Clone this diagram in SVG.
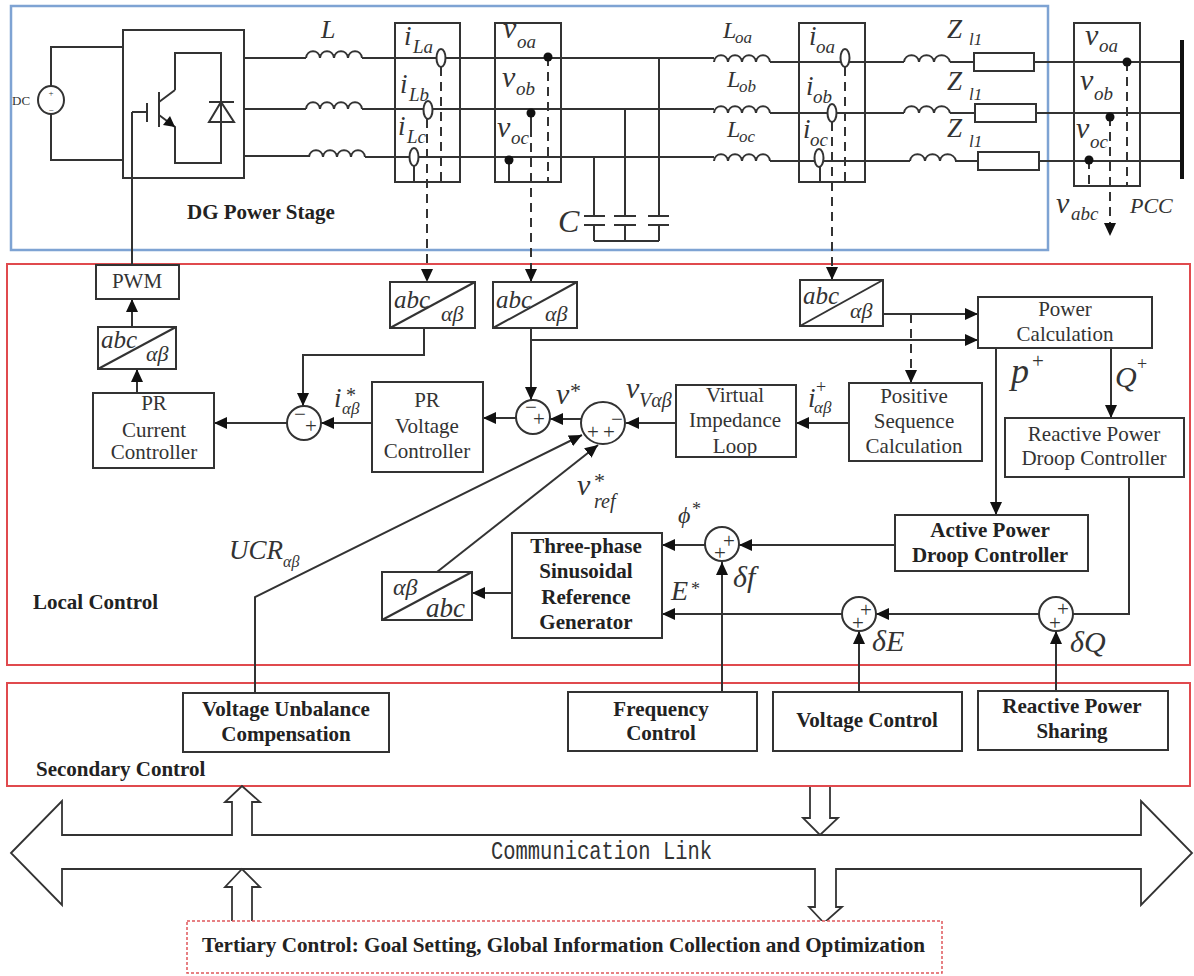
<svg xmlns="http://www.w3.org/2000/svg" width="1194" height="976" viewBox="0 0 1194 976">
<style>
text{font-family:"Liberation Serif","Times New Roman",serif;fill:#333}
.b{fill:#fff;stroke:#333;stroke-width:2}
.o{fill:none;stroke:#333;stroke-width:2}
.l{font-size:21px;text-anchor:middle}
.h{font-size:21px;font-weight:bold;text-anchor:middle;fill:#222}
.t{font-size:21px;font-weight:bold;fill:#222}
.m{font-style:italic;font-size:27px}
.v{font-style:italic;font-size:30px}
.s{font-style:italic;font-size:19px}
.a{font-style:italic;font-size:26px}
.g{font-style:italic;font-size:22px}
.p{font-size:21px;text-anchor:middle}
.n{font-style:normal}
.w{fill:none;stroke:#333;stroke-width:2}
.d{fill:none;stroke:#333;stroke-width:2;stroke-dasharray:9 6}
.e{fill:none;stroke:#333;stroke-width:2;marker-end:url(#ah)}
.de{fill:none;stroke:#333;stroke-width:2;stroke-dasharray:9 6;marker-end:url(#ah)}
.r{fill:none;stroke:#e04a4e;stroke-width:2}
.f{fill:#111;stroke:none}
.k{fill:#fff;stroke:#333;stroke-width:1.8}
</style>
<defs>
<marker id="ah" markerUnits="userSpaceOnUse" markerWidth="14" markerHeight="12" refX="13" refY="6" orient="auto"><path d="M0 0L13 6L0 12z" fill="#111"/></marker>
<path id="ind" d="M0 0c1-9 13-9 14 0c1-9 13-9 14 0c1-9 13-9 14 0c1-9 13-9 14 0" fill="none" stroke="#333" stroke-width="2"/>
<path id="ind2" d="M0 0c1-9 14-9 15 0c1-9 14-9 15 0c1-9 14-9 16 0" fill="none" stroke="#333" stroke-width="2"/>
</defs>
<rect width="1194" height="976" fill="#fff"/>

<g id="frames">
<rect x="11" y="6" width="1037" height="244" fill="none" stroke="#7ea3d3" stroke-width="2.5"/>
<rect class="r" x="7" y="264" width="1183" height="401"/>
<rect class="r" x="7" y="683" width="1183" height="103"/>
<text class="t" x="187" y="219" id="label-dg">DG Power Stage</text>
<text class="t" x="33" y="609" id="label-local">Local Control</text>
<text class="t" x="36" y="776" id="label-secondary">Secondary Control</text>
</g>

<g id="connectors">
<path class="w" d="M51 86V47H123M51 114V160H123"/>
<path class="w" d="M244 58H306M362 58H714M770 62H904M950 62H974M1034 62H1182"/>
<path class="w" d="M244 109H306M362 109H714M770 113H904M950 113H975M1036 113H1182"/>
<path class="w" d="M244 156H309M365 157H714M770 161H910M955 161H978M1039 161H1182"/>
<use href="#ind" x="306" y="58"/><use href="#ind" x="306" y="109"/><use href="#ind" x="309" y="157"/>
<use href="#ind" x="714" y="62"/><use href="#ind" x="714" y="113"/><use href="#ind" x="714" y="161"/>
<use href="#ind2" x="904" y="62"/><use href="#ind2" x="904" y="113"/><use href="#ind2" x="910" y="161"/>
<path class="w" d="M659 58V216M625 109V216M594 156V216M659 225V241M625 225V241M594 225V241M594 241H659"/>
<path class="w" d="M584 216H605M584 225H605M614 216H636M614 225H636M648 216H669M648 225H669"/>
<path d="M1182 40V179" stroke="#111" stroke-width="4" fill="none"/>
<path class="w" d="M132 112H147M132 112V265"/>
<path class="w" d="M414 166V182M509 160V182M820 167V182"/>
<path class="d" d="M441 67V182M548 57V182M845 67V182M1127 62V186M1089 160V186"/>
<path class="w" d="M531 113V128"/>
<path class="de" d="M427 119V282"/>
<path class="de" d="M531 128V282"/>
<path class="de" d="M832 122V280"/>
<path class="de" d="M1110 117V236"/>
<path class="e" d="M132 327V299"/>
<path class="e" d="M137 393V369"/>
<path class="e" d="M424 328V355H303V406"/>
<path class="e" d="M531 328V400"/>
<path class="e" d="M531 340H978"/>
<path class="e" d="M883 314H978"/>
<path class="de" d="M911 314V383"/>
<path class="e" d="M287 423H214"/>
<path class="e" d="M372 423H321"/>
<path class="e" d="M516 418H483"/>
<path class="e" d="M581 419H550"/>
<path class="e" d="M676 423H626"/>
<path class="e" d="M849 423H796"/>
<path class="e" d="M1111 348V418"/>
<path class="e" d="M996 348V515"/>
<path class="w" d="M1129 477V614H1073"/>
<path class="e" d="M1039 614H876"/>
<path class="e" d="M842 614H662"/>
<path class="e" d="M895 545H739"/>
<path class="e" d="M705 545H662"/>
<path class="e" d="M512 593H472"/>
<path class="e" d="M255 693V597L582 435"/>
<path class="e" d="M437 572L598 445"/>
<path class="e" d="M722 692V562"/>
<path class="e" d="M859 692V631"/>
<path class="e" d="M1056 691V631"/>
</g>

<g id="dc-source">
<ellipse class="b" cx="51" cy="100" rx="13" ry="14"/>
<text x="12" y="105" font-size="13">DC</text>
<text font-size="9" text-anchor="middle"><tspan x="51" y="96">+</tspan><tspan x="51" y="113">−</tspan></text>
</g>
<g id="converter">
<rect class="o" x="123" y="30" width="121" height="148"/>
<path class="w" d="M175 90V53H221V163H175V127L159 115M175 90L159 102M159 92V127M147 103V122"/>
<path class="w" d="M209 102H234M209 122L221 102L234 122z"/>
<path class="f" d="M175 127L163 125L170 116z"/>
</g>

<g id="sensor-il">
<rect class="o" x="395" y="23" width="65" height="159"/>
<g fill="#fff" stroke="#333" stroke-width="2"><ellipse cx="441" cy="58" rx="4.5" ry="9"/><ellipse cx="428" cy="110" rx="4.5" ry="9"/><ellipse cx="414" cy="157" rx="4.5" ry="9"/></g>
<text class="m" x="404" y="45">i<tspan class="s" x="413" y="53">La</tspan></text>
<text class="m" x="400" y="93">i<tspan class="s" x="409" y="101">Lb</tspan></text>
<text class="m" x="398" y="135">i<tspan class="s" x="407" y="143">Lc</tspan></text>
</g>
<g id="sensor-vo">
<rect class="o" x="495" y="23" width="66" height="159"/>
<circle class="f" cx="548" cy="57" r="4.5"/><circle class="f" cx="531" cy="113" r="4.5"/><circle class="f" cx="509" cy="160" r="4.5"/>
<text class="v" x="503" y="38">v<tspan class="s" x="517" y="48">oa</tspan></text>
<text class="v" x="502" y="87">v<tspan class="s" x="516" y="95">ob</tspan></text>
<text class="v" x="497" y="137">v<tspan class="s" x="511" y="144">oc</tspan></text>
</g>
<g id="sensor-io">
<rect class="o" x="799" y="23" width="66" height="159"/>
<g fill="#fff" stroke="#333" stroke-width="2"><ellipse cx="845" cy="58" rx="4.5" ry="9"/><ellipse cx="832" cy="113" rx="4.5" ry="9"/><ellipse cx="819" cy="158" rx="4.5" ry="9"/></g>
<text class="m" x="809" y="45">i<tspan class="s" x="816" y="53">oa</tspan></text>
<text class="m" x="806" y="95">i<tspan class="s" x="813" y="103">ob</tspan></text>
<text class="m" x="803" y="138">i<tspan class="s" x="810" y="146">oc</tspan></text>
</g>
<g id="sensor-pcc">
<rect class="o" x="1074" y="23" width="66" height="163"/>
<circle class="f" cx="1127" cy="62" r="4.5"/><circle class="f" cx="1110" cy="117" r="4.5"/><circle class="f" cx="1089" cy="160" r="4.5"/>
<text class="v" x="1085" y="45">v<tspan class="s" x="1099" y="52">oa</tspan></text>
<text class="v" x="1080" y="90">v<tspan class="s" x="1094" y="100">ob</tspan></text>
<text class="v" x="1076" y="138">v<tspan class="s" x="1090" y="148">oc</tspan></text>
</g>
<g id="impedances">
<rect class="b" x="974" y="53" width="60" height="18"/>
<rect class="b" x="975" y="104" width="61" height="18"/>
<rect class="b" x="978" y="152" width="61" height="18"/>
<text class="m" x="947" y="38">Z<tspan class="s" x="969" y="45" style="font-size:17px">l1</tspan></text>
<text class="m" x="947" y="90">Z<tspan class="s" x="969" y="100" style="font-size:17px">l1</tspan></text>
<text class="m" x="947" y="137">Z<tspan class="s" x="969" y="147" style="font-size:17px">l1</tspan></text>
</g>
<g id="electrical-labels">
<text class="a" x="321" y="38">L</text>
<text class="m" x="723" y="38" style="font-size:24px">L<tspan class="s" x="735" y="43" style="font-size:17px">oa</tspan></text>
<text class="m" x="727" y="87" style="font-size:24px">L<tspan class="s" x="739" y="92" style="font-size:17px">ob</tspan></text>
<text class="m" x="727" y="137" style="font-size:24px">L<tspan class="s" x="739" y="142" style="font-size:17px">oc</tspan></text>
<text class="m" x="558" y="232" style="font-size:32px">C</text>
<text class="v" x="1056" y="213">v<tspan class="s" x="1071" y="220">abc</tspan></text>
<text class="g" x="1130" y="213">PCC</text>
</g>

<g id="pwm"><rect class="b" x="96" y="265" width="83" height="34"/><text class="l" x="137" y="288">PWM</text></g>
<g id="abc-pwm"><rect class="b" x="98" y="327" width="78" height="42"/><path class="w" d="M98 369L176 327"/><text class="a" x="101" y="348" style="font-size:25px">abc<tspan class="g" x="146" y="361">αβ</tspan></text></g>
<g id="pr-current"><rect class="b" x="93" y="393" width="121" height="75"/><text class="l" x="154" y="410">PR</text><text class="l" x="154" y="437">Current</text><text class="l" x="154" y="459">Controller</text></g>
<g id="abc-il"><rect class="b" x="390" y="282" width="85" height="46"/><path class="w" d="M390 328L475 282"/><text class="a" x="394" y="308" style="font-size:25px">abc<tspan class="g" x="441" y="321">αβ</tspan></text></g>
<g id="abc-vo"><rect class="b" x="493" y="282" width="84" height="46"/><path class="w" d="M493 328L577 282"/><text class="a" x="496" y="308" style="font-size:25px">abc<tspan class="g" x="545" y="321">αβ</tspan></text></g>
<g id="abc-io"><rect class="b" x="800" y="280" width="83" height="46"/><path class="w" d="M800 326L883 280"/><text class="a" x="803" y="304" style="font-size:25px">abc<tspan class="g" x="850" y="318">αβ</tspan></text></g>
<g id="pr-voltage"><rect class="b" x="372" y="382" width="111" height="90"/><text class="l" x="427" y="407">PR</text><text class="l" x="427" y="433">Voltage</text><text class="l" x="427" y="458">Controller</text></g>
<g id="virtual-impedance"><rect class="b" x="676" y="385" width="120" height="72"/><text class="l" x="735" y="402">Virtual</text><text class="l" x="735" y="427">Impedance</text><text class="l" x="735" y="453">Loop</text></g>
<g id="positive-sequence"><rect class="b" x="849" y="383" width="133" height="78"/><text class="l" x="914" y="403">Positive</text><text class="l" x="914" y="428">Sequence</text><text class="l" x="914" y="453">Calculation</text></g>
<g id="power-calculation"><rect class="b" x="978" y="297" width="174" height="51"/><text class="l" x="1065" y="316">Power</text><text class="l" x="1065" y="341">Calculation</text></g>
<g id="reactive-droop"><rect class="b" x="1005" y="418" width="179" height="59"/><text class="l" x="1094" y="441">Reactive Power</text><text class="l" x="1094" y="465">Droop Controller</text></g>
<g id="active-droop"><rect class="b" x="895" y="515" width="193" height="56"/><text class="h" x="990" y="537">Active Power</text><text class="h" x="990" y="562">Droop Controller</text></g>
<g id="reference-generator"><rect class="b" x="512" y="533" width="150" height="105"/><text class="h" x="586" y="553">Three-phase</text><text class="h" x="586" y="578">Sinusoidal</text><text class="h" x="586" y="604">Reference</text><text class="h" x="586" y="629">Generator</text></g>
<g id="ab-abc"><rect class="b" x="382" y="572" width="90" height="48"/><path class="w" d="M382 620L472 572"/><text class="g" x="393" y="595" style="font-size:24px">αβ<tspan class="a" x="426" y="617" style="font-size:27px">abc</tspan></text></g>
<g id="voltage-unbalance"><rect class="b" x="183" y="693" width="206" height="59"/><text class="h" x="286" y="716">Voltage Unbalance</text><text class="h" x="286" y="741">Compensation</text></g>
<g id="frequency-control"><rect class="b" x="568" y="692" width="189" height="59"/><text class="h" x="661" y="716">Frequency</text><text class="h" x="661" y="740">Control</text></g>
<g id="voltage-control"><rect class="b" x="773" y="692" width="189" height="59"/><text class="h" x="867" y="727">Voltage Control</text></g>
<g id="reactive-sharing"><rect class="b" x="978" y="691" width="190" height="59"/><text class="h" x="1072" y="713">Reactive Power</text><text class="h" x="1072" y="738">Sharing</text></g>

<g id="sum-current"><circle class="b" cx="304" cy="423" r="17"/><text class="p"><tspan x="300" y="421">−</tspan><tspan x="311" y="433">+</tspan></text></g>
<g id="sum-voltage"><circle class="b" cx="533" cy="417" r="17"/><text class="p"><tspan x="531" y="414">−</tspan><tspan x="539" y="426">+</tspan></text></g>
<g id="sum-virtual"><ellipse class="b" cx="603" cy="423" rx="22" ry="21"/><text class="p"><tspan x="617" y="426">−</tspan><tspan x="593" y="439">+</tspan><tspan x="609" y="439">+</tspan></text></g>
<g id="sum-f"><circle class="b" cx="722" cy="544" r="17"/><text class="p"><tspan x="729" y="548">+</tspan><tspan x="720" y="560">+</tspan></text></g>
<g id="sum-e"><circle class="b" cx="859" cy="614" r="17"/><text class="p"><tspan x="866" y="617">+</tspan><tspan x="858" y="630">+</tspan></text></g>
<g id="sum-q"><circle class="b" cx="1056" cy="614" r="17"/><text class="p"><tspan x="1063" y="616">+</tspan><tspan x="1055" y="630">+</tspan></text></g>

<g id="signal-labels">
<text class="m" x="334" y="407">i<tspan class="s" x="342" y="414" style="font-size:17px">αβ</tspan><tspan class="n" x="346" y="402" style="font-size:20px">*</tspan></text>
<text class="v" x="556" y="404">v<tspan class="n" x="570" y="398" style="font-size:22px">*</tspan></text>
<text class="v" x="626" y="398">v<tspan class="s" x="639" y="407" style="font-size:20px">Vαβ</tspan></text>
<text class="v" x="577" y="495">v<tspan class="s" x="594" y="508" style="font-size:20px">ref</tspan><tspan class="n" x="594" y="488" style="font-size:22px">*</tspan></text>
<text class="m" x="808" y="407">i<tspan class="s" x="814" y="413" style="font-size:17px">αβ</tspan><tspan class="n" x="816" y="393" style="font-size:18px">+</tspan></text>
<text class="m" x="1011" y="383" style="font-size:36px">p<tspan class="n" x="1032" y="368" style="font-size:21px">+</tspan></text>
<text class="v" x="1115" y="387">Q<tspan class="n" x="1137" y="370" style="font-size:18px">+</tspan></text>
<text class="m" x="229" y="559">UCR<tspan class="s" x="283" y="567" style="font-size:16px">αβ</tspan></text>
<text class="m" x="678" y="523" style="font-size:24px">ϕ<tspan class="n" x="692" y="515" style="font-size:18px">*</tspan></text>
<text class="m" x="671" y="600" style="font-size:28px">E<tspan class="n" x="691" y="595" style="font-size:18px">*</tspan></text>
<text class="v" x="733" y="587">δf</text>
<text class="v" x="872" y="651">δE</text>
<text class="v" x="1070" y="652">δQ</text>
</g>

<g id="communication-link">
<path class="k" d="M11 853L62 801V835H1141V801L1192 853L1141 905V869H62V905z"/>
<text x="491" y="859" font-size="25" style="font-family:'Liberation Mono','Courier New',monospace" textLength="221" lengthAdjust="spacingAndGlyphs">Communication Link</text>
</g>
<g id="link-arrows">
<path class="k" d="M232 836V802H225L242 786L260 802H252V836"/>
<path class="k" d="M810 787V818H803L820 835L838 818H830V787"/>
<path class="k" d="M232 922V887H225L242 869L260 887H252V922"/>
<path class="k" d="M815 868V907H809L824 923L842 907H836V868"/>
</g>
<g id="tertiary-control">
<rect x="187" y="921" width="755" height="52" fill="#fff" stroke="#e0575b" stroke-width="1.5" stroke-dasharray="3 2"/>
<text class="t" x="202" y="952" textLength="723" lengthAdjust="spacingAndGlyphs">Tertiary Control: Goal Setting, Global Information Collection and Optimization</text>
</g>
</svg>
